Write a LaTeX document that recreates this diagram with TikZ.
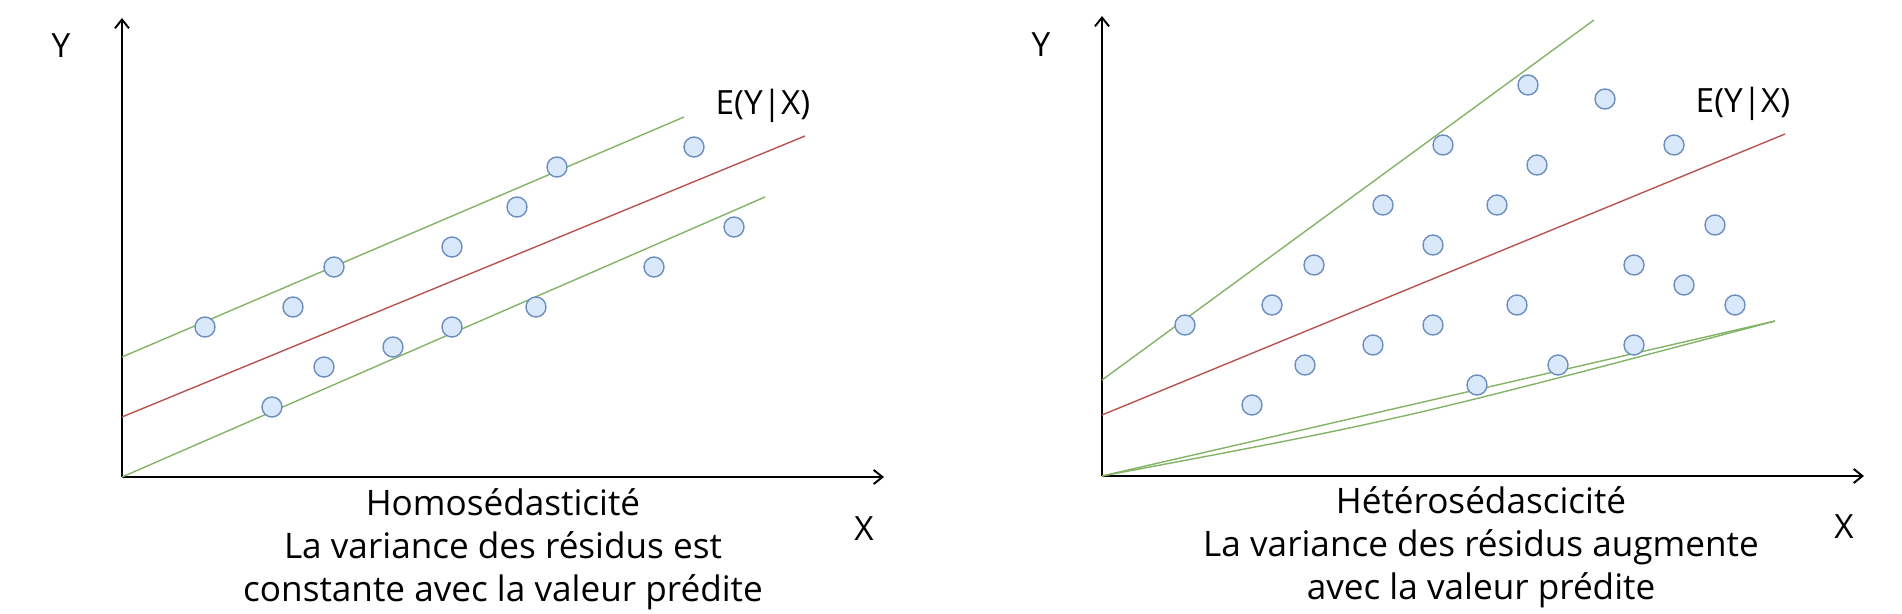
\documentclass[tikz,border=0pt]{standalone}
\usepackage{fontspec}
\setmainfont{Open Sans}
\usepackage{xcolor}
\usepackage{tikz}
\usetikzlibrary{arrows.meta}

\definecolor{ptfill}{HTML}{DAE8FC}
\definecolor{ptline}{HTML}{6C8EBF}
\definecolor{bandgreen}{HTML}{82B366}
\definecolor{fitred}{HTML}{B85450}

\begin{document}
\begin{tikzpicture}[x=0.02cm, y=-0.02cm, thick, >={Straight Barb[length=5pt,width=8pt]},
    axis/.style={->, line width=1.1pt, black},
    band/.style={bandgreen, line width=0.8pt},
    fit/.style={fitred, line width=0.8pt},
    pt/.style={circle, draw=ptline, fill=ptfill, line width=0.8pt, minimum size=0.4cm, inner sep=0pt},
    lbl/.style={font=\fontsize{19}{24}\selectfont},
    caption/.style={font=\fontsize{20}{24.5}\selectfont, align=center}]
      \useasboundingbox (0,0) rectangle (1902,614);
      % homoscedastic panel
      \coordinate (o1) at (122,477);
      \coordinate (y1) at (122,18);
      \coordinate (x1) at (884,477);
      \draw[axis] (o1) -- (y1);
      \draw[axis] (o1) -- (x1);
      \node[lbl] (ylab1) at (61,46) {Y};
      \node[lbl] (xlab1) at (864,529) {X};
      \node[lbl] (fitlab1) at (763,106) {E(Y|X)};
      \coordinate (ua1) at (122,357);  \coordinate (ub1) at (684,117);
      \coordinate (ra1) at (122,417);  \coordinate (rb1) at (805,136);
      \coordinate (la1) at (122,477);  \coordinate (lb1) at (765,197);
      \draw[band] (ua1) -- (ub1);
      \draw[fit]  (ra1) -- (rb1);
      \draw[band] (la1) -- (lb1);
      \foreach \px/\py [count=\i] in {205/327, 293/307, 334/267, 452/247, 517/207, 557/167, 694/147,
          734/227, 654/267, 536/307, 452/327, 393/347, 324/367, 272/407}
        \node[pt] (a\i) at (\px,\py) {};
      \node[caption] (cap1) at (503,549) {Homosédasticité\\La variance des résidus est\\constante avec la valeur prédite};
      % heteroscedastic panel
      \coordinate (o2) at (1102,476);
      \coordinate (y2) at (1102,16);
      \coordinate (x2) at (1864,476);
      \draw[axis] (o2) -- (y2);
      \draw[axis] (o2) -- (x2);
      \node[lbl] (ylab2) at (1041,45) {Y};
      \node[lbl] (xlab2) at (1844,527) {X};
      \node[lbl] (fitlab2) at (1743,104) {E(Y|X)};
      \coordinate (ua2) at (1102,380); \coordinate (ub2) at (1594,20);
      \coordinate (ra2) at (1102,415); \coordinate (rb2) at (1785,134);
      \coordinate (la2) at (1102,476); \coordinate (lb2) at (1775,321);
      \draw[band] (ua2) -- (ub2);
      \draw[fit]  (ra2) -- (rb2);
      \draw[band] (la2) -- (lb2);
      \draw[band] (la2) .. controls (1400,420) .. (lb2);
      \foreach \px/\py [count=\i] in {1185/325, 1272/305, 1314/265, 1383/205, 1443/145, 1528/85, 1605/99,
          1674/145, 1537/165, 1497/205, 1433/245, 1715/225, 1634/265, 1684/285, 1735/305, 1517/305,
          1433/325, 1373/345, 1305/365, 1252/405, 1477/385, 1558/365, 1634/345}
        \node[pt] (b\i) at (\px,\py) {};
      \node[caption] (cap2) at (1481,547) {Hétérosédascicité\\La variance des résidus augmente\\avec la valeur prédite};
    \end{tikzpicture}
\end{document}
